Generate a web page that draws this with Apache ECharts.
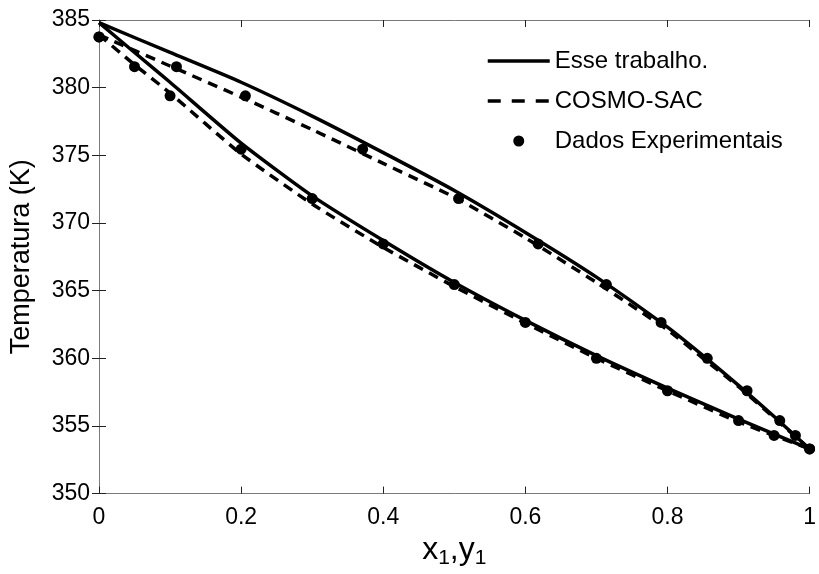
<!DOCTYPE html>
<html>
<head>
<meta charset="utf-8">
<script src="https://cdn.jsdelivr.net/npm/echarts@6/dist/echarts.min.js"></script>
<style>
  html, body { margin: 0; padding: 0; background: #fff; }
  #chart { width: 819px; height: 574px; }
</style>
</head>
<body>
<div id="chart"></div>
<script>
// Liquid-phase (bubble) curves: temperature vs x1
const bubbleX = [0, 0.05, 0.1, 0.2, 0.3, 0.4, 0.5, 0.6, 0.7, 0.8, 0.9, 1];
const modelBubbleT = [384.8, 382.6, 380.4, 375.9, 372.0, 368.7, 365.6, 362.8, 360.2, 357.8, 355.5, 353.3];
const cosmoBubbleT = [383.9, 381.7, 379.6, 375.1, 371.4, 368.2, 365.3, 362.6, 360.0, 357.6, 355.3, 353.3];

// Vapour-phase (dew) curves: temperature vs y1
const dewY = [0, 0.1, 0.2, 0.3, 0.4, 0.5, 0.6, 0.7, 0.8, 0.85, 0.9, 0.95, 1];
const modelDewT = [384.8, 382.6, 380.4, 377.9, 375.2, 372.4, 369.3, 366.0, 362.3, 360.2, 358.0, 355.7, 353.3];
const cosmoDewT = [383.9, 381.6, 379.3, 376.9, 374.4, 371.9, 368.9, 365.6, 362.1, 360.0, 357.9, 355.6, 353.3];

// Experimental equilibrium data: T, x1, y1
const expT = [383.75, 381.55, 379.4, 375.45, 371.8, 368.45, 365.45, 362.65, 360.0, 357.6, 355.4, 354.3, 353.3];
const expX = [0, 0.05, 0.1, 0.2, 0.3, 0.4, 0.5, 0.6, 0.7, 0.8, 0.9, 0.95, 1];
const expY = [0, 0.109, 0.206, 0.371, 0.506, 0.618, 0.714, 0.791, 0.856, 0.912, 0.958, 0.980, 1];

const seriesNames = ['Esse trabalho.', 'COSMO-SAC', 'Dados Experimentais'];

const pairs = (xs, ys) => xs.map((v, i) => [v, ys[i]]);
const expPoints = pairs(expX, expT).concat(pairs(expY, expT));

const FONT = 'Liberation Sans, Arial, Helvetica, sans-serif';
const axisGrey = '#7a7a7a';
const LINE_W = 3.5;
const DASH = [10, 7];

const baseX = {
  type: 'value', min: 0, max: 1, interval: 0.2,
  axisLine: { show: true, lineStyle: { color: axisGrey, width: 1 } },
  axisTick: { show: true, inside: true, length: 7, lineStyle: { color: '#222' } },
  splitLine: { show: false }
};
const baseY = {
  type: 'value', min: 350, max: 385, interval: 5,
  axisLine: { show: true, lineStyle: { color: axisGrey, width: 1 } },
  axisTick: { show: true, inside: true, length: 7, lineStyle: { color: '#222' } },
  splitLine: { show: false }
};

const lineSeries = (name, xs, ys, type) => ({
  name, type: 'line', data: pairs(xs, ys),
  xAxisIndex: 0, yAxisIndex: 0,
  showSymbol: false, symbol: 'none', smooth: 0.2,
  lineStyle: { color: '#000', width: LINE_W, type },
  itemStyle: { color: '#000' },
  z: 3, animation: false
});

// legend entries for the curves show only the line sample, no marker
const hiddenMarker = { color: 'rgba(0,0,0,0)', borderColor: 'rgba(0,0,0,0)', borderWidth: 0 };

const chart = echarts.init(document.getElementById('chart'), null, { renderer: 'canvas' });
chart.setOption({
  animation: false,
  backgroundColor: '#fff',
  grid: { left: 98, right: 6, top: 20, bottom: 78, containLabel: false },
  xAxis: [
    Object.assign({}, baseX, {
      position: 'bottom',
      name: 'x{s|1},y{s|1}',
      nameLocation: 'middle', nameGap: 33,
      nameTextStyle: {
        fontFamily: FONT, fontSize: 32, color: '#000',
        rich: { s: { fontFamily: FONT, fontSize: 21, color: '#000', verticalAlign: 'bottom', padding: [16, 0, 0, 0] } }
      },
      axisLabel: { fontFamily: FONT, fontSize: 23, color: '#000', margin: 13 }
    }),
    Object.assign({}, baseX, { position: 'top', axisLabel: { show: false } })
  ],
  yAxis: [
    Object.assign({}, baseY, {
      position: 'left',
      name: 'Temperatura (K)',
      nameLocation: 'middle', nameGap: 64,
      nameTextStyle: { fontFamily: FONT, fontSize: 27, color: '#000' },
      axisLabel: { fontFamily: FONT, fontSize: 23, color: '#000', margin: 9 }
    }),
    Object.assign({}, baseY, { position: 'right', axisLabel: { show: false } })
  ],
  legend: {
    data: [
      { name: seriesNames[0], itemStyle: hiddenMarker, lineStyle: { width: LINE_W, type: 'solid', color: '#000' } },
      { name: seriesNames[1], itemStyle: hiddenMarker, lineStyle: { width: LINE_W, type: [13, 11], color: '#000' } },
      { name: seriesNames[2] }
    ],
    orient: 'vertical',
    left: 486, top: 49, padding: 0,
    itemWidth: 62, itemHeight: 11, itemGap: 16,
    textStyle: { fontFamily: FONT, fontSize: 24, color: '#000', lineHeight: 24 },
    selectedMode: false
  },
  series: [
    lineSeries(seriesNames[0], bubbleX, modelBubbleT, 'solid'),
    lineSeries(seriesNames[0], dewY, modelDewT, 'solid'),
    lineSeries(seriesNames[1], bubbleX, cosmoBubbleT, DASH),
    lineSeries(seriesNames[1], dewY, cosmoDewT, DASH),
    {
      name: seriesNames[2], type: 'scatter', data: expPoints,
      symbol: 'circle', symbolSize: 11,
      itemStyle: { color: '#000', opacity: 1 },
      z: 4, animation: false
    }
  ]
});
</script>
</body>
</html>
